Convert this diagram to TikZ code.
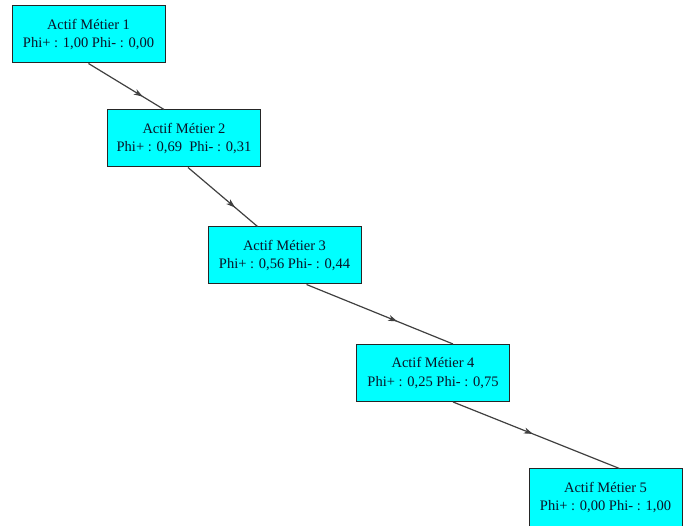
\documentclass[tikz,border=0pt]{standalone}
\usepackage{fontspec}
\setmainfont{Liberation Serif}
\newfontfamily\boxfont{Liberation Serif}
\usetikzlibrary{arrows.meta,decorations.markings}
\definecolor{boxcyan}{RGB}{0,255,255}
\definecolor{boxtext}{RGB}{10,20,40}
\begin{document}
\begin{tikzpicture}[x=1pt,y=-1pt,
  box/.style={draw=black!85,line width=1pt,fill=boxcyan,minimum width=153pt,minimum height=57pt,
    inner sep=0pt,align=center,text=boxtext,font=\boxfont\fontsize{14.5}{18.5}\selectfont},
  conn/.style={draw=black!75,line width=1.2pt},
  midarrow/.style={postaction={decorate,decoration={markings,
    mark=at position #1 with {\arrow{Stealth[length=9pt,width=6pt,inset=2.5pt]}}}}}]
\useasboundingbox (0,0) rectangle (683,526);
\node[box] (n1) at (88.5,34.5) {Actif Métier 1\\Phi+ : 1,00 Phi- : 0,00};
\node[box] (n2) at (184,138.5) {Actif Métier 2\\Phi+ : 0,69~~Phi- : 0,31};
\node[box] (n3) at (284.5,255.5) {Actif Métier 3\\Phi+ : 0,56 Phi- : 0,44};
\node[box] (n4) at (433,373) {Actif Métier 4\\Phi+ : 0,25 Phi- : 0,75};
\node[box] (n5) at (605.5,497.5) {Actif Métier 5\\Phi+ : 0,00 Phi- : 1,00};
\draw[conn,midarrow=0.72] (n1.south) -- ([xshift=-20pt]n2.north);
\draw[conn,midarrow=0.68] ([xshift=4pt]n2.south) -- ([xshift=-27pt]n3.north);
\draw[conn,midarrow=0.62] ([xshift=22pt]n3.south) -- ([xshift=20pt]n4.north);
\draw[conn,midarrow=0.48] ([xshift=20pt]n4.south) -- ([xshift=14pt]n5.north);
\end{tikzpicture}
\end{document}
